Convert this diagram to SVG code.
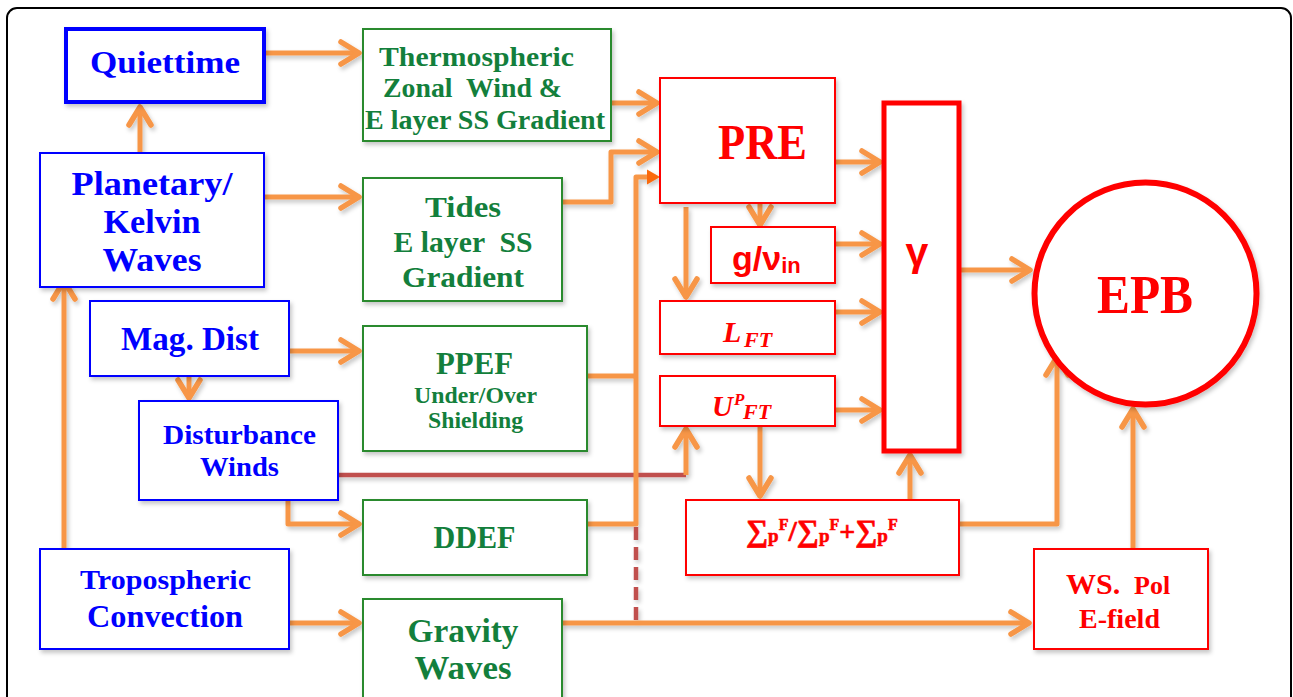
<svg xmlns="http://www.w3.org/2000/svg" width="1293" height="697" viewBox="0 0 1293 697">
<style>
.t{font-family:"Liberation Serif",serif;font-weight:bold;text-anchor:middle}
.b{fill:#0000ff}
.g{fill:#137f3c}
.r{fill:#ff0000}
.bb{fill:#fff;stroke:#0000ff;stroke-width:2}
.gb{fill:#fff;stroke:#2a8a2e;stroke-width:2}
.rb{fill:#fff;stroke:#ff0000;stroke-width:2}
.c{fill:none;stroke:#f79646;stroke-width:5;stroke-linejoin:round}
.a{marker-end:url(#ah)}
.dk{fill:none;stroke:#c0504d;stroke-width:4.5}
</style>
<defs>
<filter id="sh" x="-10%" y="-10%" width="130%" height="130%">
<feDropShadow dx="2" dy="3" stdDeviation="2" flood-color="#000" flood-opacity="0.22"/>
</filter>
<marker id="ah" viewBox="-24 -15 28 30" refX="0" refY="0" markerWidth="28" markerHeight="30" markerUnits="userSpaceOnUse" orient="auto">
<path d="M-18,-11 L0,0 L-18,11" fill="none" stroke="#f79646" stroke-width="5.5" stroke-linecap="round" stroke-linejoin="round"/>
</marker>
<marker id="tri" viewBox="-2 -8 16 16" refX="0" refY="0" markerWidth="16" markerHeight="16" markerUnits="userSpaceOnUse" orient="auto">
<path d="M-1,-7.5 L12,0 L-1,7.5 Z" fill="#fa6a0a"/>
</marker>
</defs>

<rect x="7" y="8" width="1284" height="720" rx="10" fill="#fff" stroke="#000" stroke-width="2"/>

<g id="connectors" filter="url(#sh)">
<path class="c a" d="M264,53 H359"/>
<path class="c a" d="M140,153 V107"/>
<path class="c a" d="M264,197 H359"/>
<path class="c a" d="M64,549 V281"/>
<path class="c a" d="M289,351 H359"/>
<path class="c a" d="M189,376 V398"/>
<path class="c a" d="M288,500 V524 H359"/>
<path class="c a" d="M289,623 H359"/>
<path class="c a" d="M611,103 H657"/>
<path class="c a" d="M562,202 H611 V152 H657"/>
<path class="c" d="M587,376 H636"/>
<path class="dk" d="M338,475 H686"/>
<path class="dk" d="M636,527 V623" stroke-dasharray="13,7"/>
<path class="c" d="M587,524 H636 V177 H648" style="marker-end:url(#tri)"/>
<path class="c a" d="M686,475 V429"/>
<path class="c a" d="M562,623 H1029"/>
<path class="c a" d="M835,162 H880"/>
<path class="c a" d="M760,203 V225"/>
<path class="c a" d="M686,207 V297" stroke-width="3.5"/>
<path class="c a" d="M835,244 H880"/>
<path class="c a" d="M835,312 H880"/>
<path class="c a" d="M835,410 H880"/>
<path class="c a" d="M760,426 V496"/>
<path class="c a" d="M910,500 V455"/>
<path class="c a" d="M960,270 H1030"/>
<path class="c a" d="M960,524 H1057 V357"/>
<path class="c a" d="M1133,549 V409"/>
</g>

<g id="quiettime"><rect class="bb" x="66" y="29" width="198" height="73" style="stroke-width:4" filter="url(#sh)"/>
<text class="t b" x="165" y="73" font-size="32" textLength="150" lengthAdjust="spacingAndGlyphs">Quiettime</text></g>

<g id="planetary"><rect class="bb" x="40" y="153" width="224" height="134" filter="url(#sh)"/>
<text class="t b" x="152" y="195" font-size="33" textLength="161" lengthAdjust="spacingAndGlyphs">Planetary/</text>
<text class="t b" x="152" y="233" font-size="33" textLength="97" lengthAdjust="spacingAndGlyphs">Kelvin</text>
<text class="t b" x="152" y="271" font-size="33" textLength="99" lengthAdjust="spacingAndGlyphs">Waves</text></g>

<g id="magdist"><rect class="bb" x="90" y="301" width="199" height="75" filter="url(#sh)"/>
<text class="t b" x="190" y="350" font-size="33" textLength="138" lengthAdjust="spacingAndGlyphs">Mag. Dist</text></g>

<g id="disturbance"><rect class="bb" x="139" y="401" width="199" height="99" filter="url(#sh)"/>
<text class="t b" x="239.5" y="444" font-size="27" textLength="153" lengthAdjust="spacingAndGlyphs">Disturbance</text>
<text class="t b" x="239.5" y="476" font-size="27" textLength="79" lengthAdjust="spacingAndGlyphs">Winds</text></g>

<g id="tropospheric"><rect class="bb" x="40" y="549" width="249" height="100" filter="url(#sh)"/>
<text class="t b" x="165.5" y="589" font-size="27" textLength="171" lengthAdjust="spacingAndGlyphs">Tropospheric</text>
<text class="t b" x="165" y="627" font-size="32" textLength="156" lengthAdjust="spacingAndGlyphs">Convection</text></g>

<g id="thermospheric"><rect class="gb" x="363" y="29" width="248" height="112" filter="url(#sh)"/>
<text class="t g" x="476.5" y="66" font-size="27" textLength="195" lengthAdjust="spacingAndGlyphs">Thermospheric</text>
<text class="t g" x="472.5" y="97" font-size="27" textLength="179" lengthAdjust="spacingAndGlyphs" style="white-space:pre">Zonal  Wind &amp;</text>
<text class="t g" x="485" y="129" font-size="27" textLength="240" lengthAdjust="spacingAndGlyphs">E layer SS Gradient</text></g>

<g id="tides"><rect class="gb" x="363" y="178" width="199" height="123" filter="url(#sh)"/>
<text class="t g" x="463" y="217" font-size="29" textLength="76" lengthAdjust="spacingAndGlyphs">Tides</text>
<text class="t g" x="463" y="252" font-size="29" textLength="139" lengthAdjust="spacingAndGlyphs" style="white-space:pre">E layer  SS</text>
<text class="t g" x="463" y="287" font-size="29" textLength="122" lengthAdjust="spacingAndGlyphs">Gradient</text></g>

<g id="ppef"><rect class="gb" x="363" y="326" width="224" height="125" filter="url(#sh)"/>
<text class="t g" x="474.5" y="374" font-size="32" textLength="77" lengthAdjust="spacingAndGlyphs">PPEF</text>
<text class="t g" x="475.5" y="403" font-size="23" textLength="123" lengthAdjust="spacingAndGlyphs">Under/Over</text>
<text class="t g" x="475.5" y="428" font-size="23" textLength="95" lengthAdjust="spacingAndGlyphs">Shielding</text></g>

<g id="ddef"><rect class="gb" x="363" y="500" width="224" height="75" filter="url(#sh)"/>
<text class="t g" x="474.5" y="548" font-size="32" textLength="82" lengthAdjust="spacingAndGlyphs">DDEF</text></g>

<g id="gravity"><rect class="gb" x="363" y="599" width="199" height="110" filter="url(#sh)"/>
<text class="t g" x="463" y="642" font-size="33" textLength="111" lengthAdjust="spacingAndGlyphs">Gravity</text>
<text class="t g" x="463" y="679" font-size="33" textLength="97" lengthAdjust="spacingAndGlyphs">Waves</text></g>

<g id="pre"><rect class="rb" x="660" y="78" width="175" height="125" filter="url(#sh)"/>
<text class="t r" x="762.5" y="159" font-size="51" textLength="89" lengthAdjust="spacingAndGlyphs">PRE</text></g>

<g id="gnu"><rect class="rb" x="711" y="227" width="124" height="56" filter="url(#sh)"/>
<text class="r" font-family="'Liberation Sans',sans-serif" font-weight="bold" x="732" y="270" font-size="34">g/ν<tspan font-size="22" y="273">in</tspan></text></g>

<g id="lft"><rect class="rb" x="660" y="301" width="175" height="53" filter="url(#sh)"/>
<text class="r" font-family="'Liberation Serif',serif" font-weight="bold" font-style="italic" x="723" y="342" font-size="30">L<tspan x="744" y="347" font-size="22">FT</tspan></text></g>

<g id="upft"><rect class="rb" x="660" y="376" width="175" height="50" filter="url(#sh)"/>
<text class="r" font-family="'Liberation Serif',serif" font-weight="bold" font-style="italic" x="712" y="416" font-size="29">U<tspan x="734" y="405" font-size="17">P</tspan><tspan x="743" y="419" font-size="22">FT</tspan></text></g>

<g id="gamma"><rect x="884" y="103" width="75" height="348" fill="#fff" stroke="#ff0000" stroke-width="5" filter="url(#sh)"/>
<text class="r" font-family="'Liberation Sans',sans-serif" font-weight="bold" text-anchor="middle" x="917" y="266" font-size="41">γ</text></g>

<g id="sigma"><rect class="rb" x="686" y="500" width="273" height="75" filter="url(#sh)"/>
<text class="r" font-family="'Liberation Serif',serif" font-weight="bold" font-size="31" x="746" y="541" stroke="#ff0000" stroke-width="0.6">∑<tspan font-size="19" dy="1">p</tspan><tspan font-size="16" dy="-12">F</tspan><tspan font-size="30" dy="11">/</tspan><tspan>∑</tspan><tspan font-size="19" dy="1">p</tspan><tspan font-size="16" dy="-12">F</tspan><tspan font-size="28" dy="11">+</tspan><tspan>∑</tspan><tspan font-size="19" dy="1">p</tspan><tspan font-size="16" dy="-12">F</tspan></text></g>

<g id="epb"><circle cx="1145.5" cy="293.5" r="111" fill="#fff" stroke="#ff0000" stroke-width="6" filter="url(#sh)"/>
<text class="t r" x="1145" y="313" font-size="54" textLength="96" lengthAdjust="spacingAndGlyphs">EPB</text></g>

<g id="wspol"><rect class="rb" x="1034" y="549" width="174" height="100" filter="url(#sh)"/>
<text class="r" font-family="'Liberation Serif',serif" font-weight="bold" y="594"><tspan x="1066" font-size="30">WS.</tspan><tspan x="1134" font-size="26">Pol</tspan></text>
<text class="t r" x="1119.5" y="628" font-size="28" textLength="81" lengthAdjust="spacingAndGlyphs">E-field</text></g>
</svg>
